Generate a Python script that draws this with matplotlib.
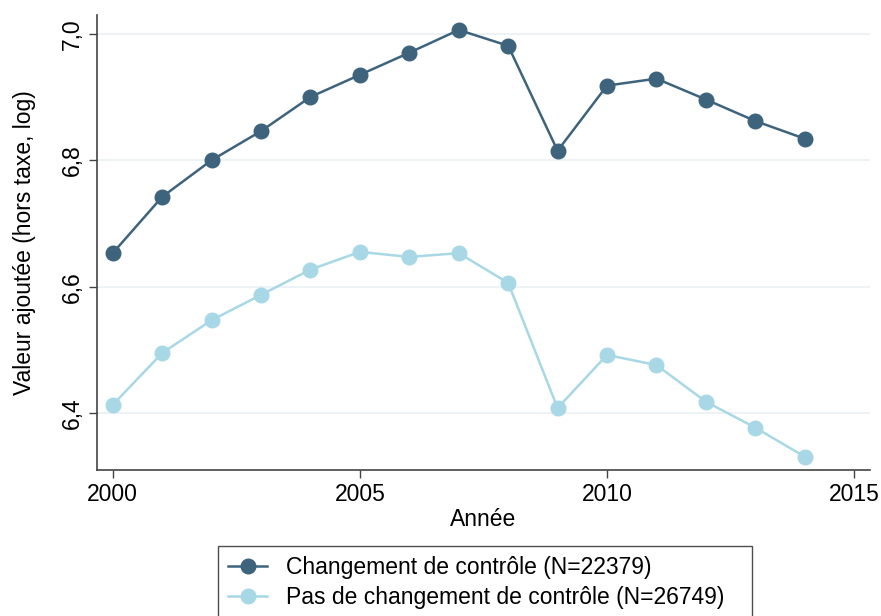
import matplotlib
matplotlib.use("Agg")
import matplotlib.pyplot as plt

plt.rcParams['font.family'] = ['Liberation Sans', 'DejaVu Sans']

# data
annees = list(range(2000, 2015))
changement = [6.653, 6.742, 6.800, 6.846, 6.900, 6.935, 6.970, 7.006,
              6.981, 6.815, 6.918, 6.929, 6.896, 6.862, 6.834]
pas_changement = [6.413, 6.495, 6.547, 6.587, 6.627, 6.655, 6.647, 6.653,
                  6.606, 6.408, 6.492, 6.476, 6.418, 6.377, 6.331]
label_changement = "Changement de contrôle (N=22379)"
label_pas = "Pas de changement de contrôle (N=26749)"
yticks = [6.4, 6.6, 6.8, 7.0]
ytick_labels = ["6,4", "6,6", "6,8", "7,0"]
xticks = [2000, 2005, 2010, 2015]

fig = plt.figure(figsize=(8.81, 6.16), dpi=100)
ax = fig.add_axes([0.110, 0.237, 0.8775, 0.739])

ax.plot(annees, changement, color='#3e647d', marker='o', markersize=10.5,
        linewidth=1.8, label=label_changement)
ax.plot(annees, pas_changement, color='#a8d8e6', marker='o', markersize=10.5,
        linewidth=1.8, label=label_pas)

ax.set_xlim(1999.68, 2015.32)
ax.set_ylim(6.31, 7.03)
ax.set_yticks(yticks)
ax.set_yticklabels(ytick_labels, rotation=90, va='center')
ax.set_xticks(xticks)
ax.grid(axis='y', color='#eaf1f3', linewidth=1.2)
ax.set_axisbelow(True)

for s in ['top', 'right']:
    ax.spines[s].set_visible(False)
for s in ['left', 'bottom']:
    ax.spines[s].set_color('#444444')
    ax.spines[s].set_linewidth(1.2)

ax.tick_params(axis='both', labelsize=16.5, length=6, color='#444444', width=1.0)
ax.set_xlabel("Année", fontsize=16.5, labelpad=1)
ax.set_ylabel("Valeur ajoutée (hors taxe, log)", fontsize=16.5, labelpad=18)

# legend box spans the same width as in the original, left-aligned entries
leg = fig.legend(loc='upper left', bbox_to_anchor=(0.2474, -0.2, 0.6061, 0.3136),
                 mode='expand', fontsize=16.5, frameon=True, fancybox=False,
                 handlelength=1.7, borderpad=0.45, labelspacing=0.3,
                 handletextpad=0.8, borderaxespad=0)
leg.get_frame().set_edgecolor('#222222')
leg.get_frame().set_linewidth(1.0)

fig.savefig("out.png", dpi=100)
